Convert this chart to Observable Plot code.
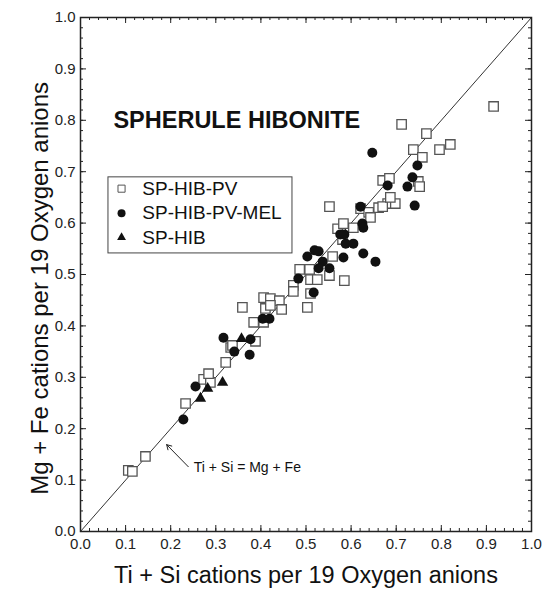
<!DOCTYPE html>
<html>
<head>
<meta charset="utf-8">
<script src="https://cdn.jsdelivr.net/npm/d3@7"></script>
<script src="https://cdn.jsdelivr.net/npm/@observablehq/plot@0.6"></script>
<style>
  html, body { margin: 0; padding: 0; background: #fff; }
  #chart svg { display: block; }
</style>
</head>
<body>
<div id="chart"></div>
<script>
// ---- Data ----
const seriesNames = ["SP-HIB-PV", "SP-HIB-PV-MEL", "SP-HIB"];

// SP-HIB-PV (open squares): Ti+Si, Mg+Fe
const pvTiSi = [0.106,0.115,0.144,0.233,0.273,0.288,0.284,0.322,0.333,0.388,0.337,0.359,0.384,0.406,0.406,0.421,0.441,0.410,0.421,0.446,0.503,0.472,0.472,0.510,0.486,0.508,0.510,0.525,0.552,0.585,0.559,0.570,0.583,0.605,0.581,0.552,0.621,0.639,0.643,0.661,0.681,0.698,0.670,0.687,0.670,0.685,0.749,0.752,0.738,0.758,0.767,0.796,0.820,0.712,0.916];
const pvMgFe = [0.119,0.117,0.146,0.249,0.296,0.290,0.307,0.329,0.358,0.370,0.362,0.436,0.407,0.407,0.455,0.453,0.449,0.434,0.440,0.432,0.436,0.479,0.467,0.463,0.510,0.510,0.490,0.490,0.498,0.488,0.535,0.589,0.599,0.591,0.568,0.632,0.628,0.621,0.611,0.630,0.638,0.638,0.632,0.650,0.683,0.687,0.681,0.671,0.743,0.728,0.774,0.743,0.753,0.792,0.827];

// SP-HIB-PV-MEL (filled circles)
const melTiSi = [0.228,0.255,0.317,0.341,0.375,0.377,0.404,0.419,0.483,0.517,0.503,0.519,0.528,0.537,0.528,0.552,0.583,0.576,0.588,0.605,0.627,0.654,0.621,0.625,0.627,0.647,0.681,0.725,0.736,0.747,0.741,0.585];
const melMgFe = [0.218,0.282,0.377,0.350,0.344,0.374,0.414,0.414,0.492,0.465,0.535,0.547,0.545,0.525,0.512,0.512,0.533,0.578,0.560,0.560,0.541,0.525,0.632,0.599,0.591,0.737,0.673,0.671,0.689,0.712,0.634,0.578];

// SP-HIB (filled triangles)
const hibTiSi = [0.357,0.315,0.282,0.266];
const hibMgFe = [0.375,0.290,0.278,0.259];

const axisTicks = [0,0.1,0.2,0.3,0.4,0.5,0.6,0.7,0.8,0.9,1.0];
const axisTickLabels = ["0.0","0.1","0.2","0.3","0.4","0.5","0.6","0.7","0.8","0.9","1.0"];
const minorStep = 0.02;
const identityLine = [0, 1];

const xTitle = "Ti + Si cations per 19 Oxygen anions";
const yTitle = "Mg + Fe cations per 19 Oxygen anions";
const chartTitle = "SPHERULE HIBONITE";
const lineLabel = "Ti + Si = Mg + Fe";

// ---- Build tables ----
const pv = pvTiSi.map((x, i) => ({x, y: pvMgFe[i]}));
const mel = melTiSi.map((x, i) => ({x, y: melMgFe[i]}));
const hib = hibTiSi.map((x, i) => ({x, y: hibMgFe[i]}));
const minorTicks = d3.range(0, 1 + 1e-9, minorStep);

// ---- Layout ----
const W = 544, H = 597;
const mL = 80, mR = 13, mT = 17, mB = 66;
const pw = W - mL - mR, ph = H - mT - mB;
const font = "'Liberation Sans', Arial, Helvetica, sans-serif";
const ink = "#222";

// legend layout (data units inside the frame)
const legX1 = 0.062, legX2 = 0.470, legY1 = 0.541, legY2 = 0.689;
const legSymX = 0.091, legTextX = 0.137;
const legRows = [0.667, 0.619, 0.572];
const legend = seriesNames.map((name, i) => ({name, y: legRows[i]}));

const tickLabel = d => axisTickLabels[axisTicks.indexOf(d)] ?? d3.format(".1f")(d);

const plot = Plot.plot({
  width: W, height: H,
  marginLeft: mL, marginRight: mR, marginTop: mT, marginBottom: mB,
  style: {fontFamily: font, background: "#fff", color: ink},
  x: {domain: [0, 1]},
  y: {domain: [0, 1]},
  marks: [
    // minor ticks (all four sides, inward)
    Plot.tickX(minorTicks, {x: d => d, insetTop: ph - 3, stroke: ink, strokeWidth: 1}),
    Plot.tickX(minorTicks, {x: d => d, insetBottom: ph - 3, stroke: ink, strokeWidth: 1}),
    Plot.tickY(minorTicks, {y: d => d, insetRight: pw - 3, stroke: ink, strokeWidth: 1}),
    Plot.tickY(minorTicks, {y: d => d, insetLeft: pw - 3, stroke: ink, strokeWidth: 1}),
    // major ticks
    Plot.tickX(axisTicks, {x: d => d, insetTop: ph - 6, stroke: ink, strokeWidth: 1}),
    Plot.tickX(axisTicks, {x: d => d, insetBottom: ph - 6, stroke: ink, strokeWidth: 1}),
    Plot.tickY(axisTicks, {y: d => d, insetRight: pw - 6, stroke: ink, strokeWidth: 1}),
    Plot.tickY(axisTicks, {y: d => d, insetLeft: pw - 6, stroke: ink, strokeWidth: 1}),
    // tick labels
    Plot.axisX({ticks: axisTicks, tickFormat: tickLabel, tickSize: 0, tickPadding: 7, fontSize: 15, label: null}),
    Plot.axisY({ticks: axisTicks, tickFormat: tickLabel, tickSize: 0, tickPadding: 5, fontSize: 15, label: null}),
    // 1:1 line
    Plot.line(identityLine, {x: d => d, y: d => d, stroke: "#333", strokeWidth: 1}),
    // data
    Plot.dot(pv, {x: "x", y: "y", symbol: "square", r: 5.3, fill: "#fff", stroke: "#555", strokeWidth: 1.3}),
    Plot.dot(mel, {x: "x", y: "y", symbol: "circle", r: 5, fill: "#111", stroke: "none"}),
    Plot.dot(hib, {x: "x", y: "y", symbol: "triangle", r: 4.2, fill: "#111", stroke: "none"}),
    // frame
    Plot.frame({stroke: ink, strokeWidth: 1.5}),
    // legend box
    Plot.rect([legend[0]], {x1: () => legX1, x2: () => legX2, y1: () => legY1, y2: () => legY2, fill: "#fff", stroke: "#444", strokeWidth: 1}),
    Plot.dot([legend[0]], {x: () => legSymX, y: "y", symbol: "square", r: 4, fill: "#fff", stroke: "#555", strokeWidth: 1}),
    Plot.dot([legend[1]], {x: () => legSymX, y: "y", symbol: "circle", r: 4, fill: "#111"}),
    Plot.dot([legend[2]], {x: () => legSymX, y: "y", symbol: "triangle", r: 3.3, fill: "#111"}),
    Plot.text(legend, {x: () => legTextX, y: "y", text: "name", textAnchor: "start", fontSize: 19, fill: "#111"}),
    // title inside plot
    Plot.text([chartTitle], {x: () => 0.073, y: () => 0.80, text: d => d, textAnchor: "start", fontSize: 23.5, fontWeight: "bold", fill: "#111"}),
    // line annotation
    Plot.arrow([lineLabel], {x1: () => 0.239, y1: () => 0.126, x2: () => 0.191, y2: () => 0.169, stroke: "#222", strokeWidth: 1, headLength: 8}),
    Plot.text([lineLabel], {x: () => 0.251, y: () => 0.125, text: d => d, textAnchor: "start", fontSize: 14, fill: "#111"}),
    // axis titles
    Plot.text([xTitle], {frameAnchor: "bottom", text: d => d, dy: 51, fontSize: 23.5, fill: "#111"}),
    Plot.text([yTitle], {x: () => -0.0887, y: () => 0.473, text: d => d, rotate: -90, textAnchor: "middle", fontSize: 24, fill: "#111"})
  ]
});
document.getElementById("chart").appendChild(plot);
</script>
</body>
</html>
